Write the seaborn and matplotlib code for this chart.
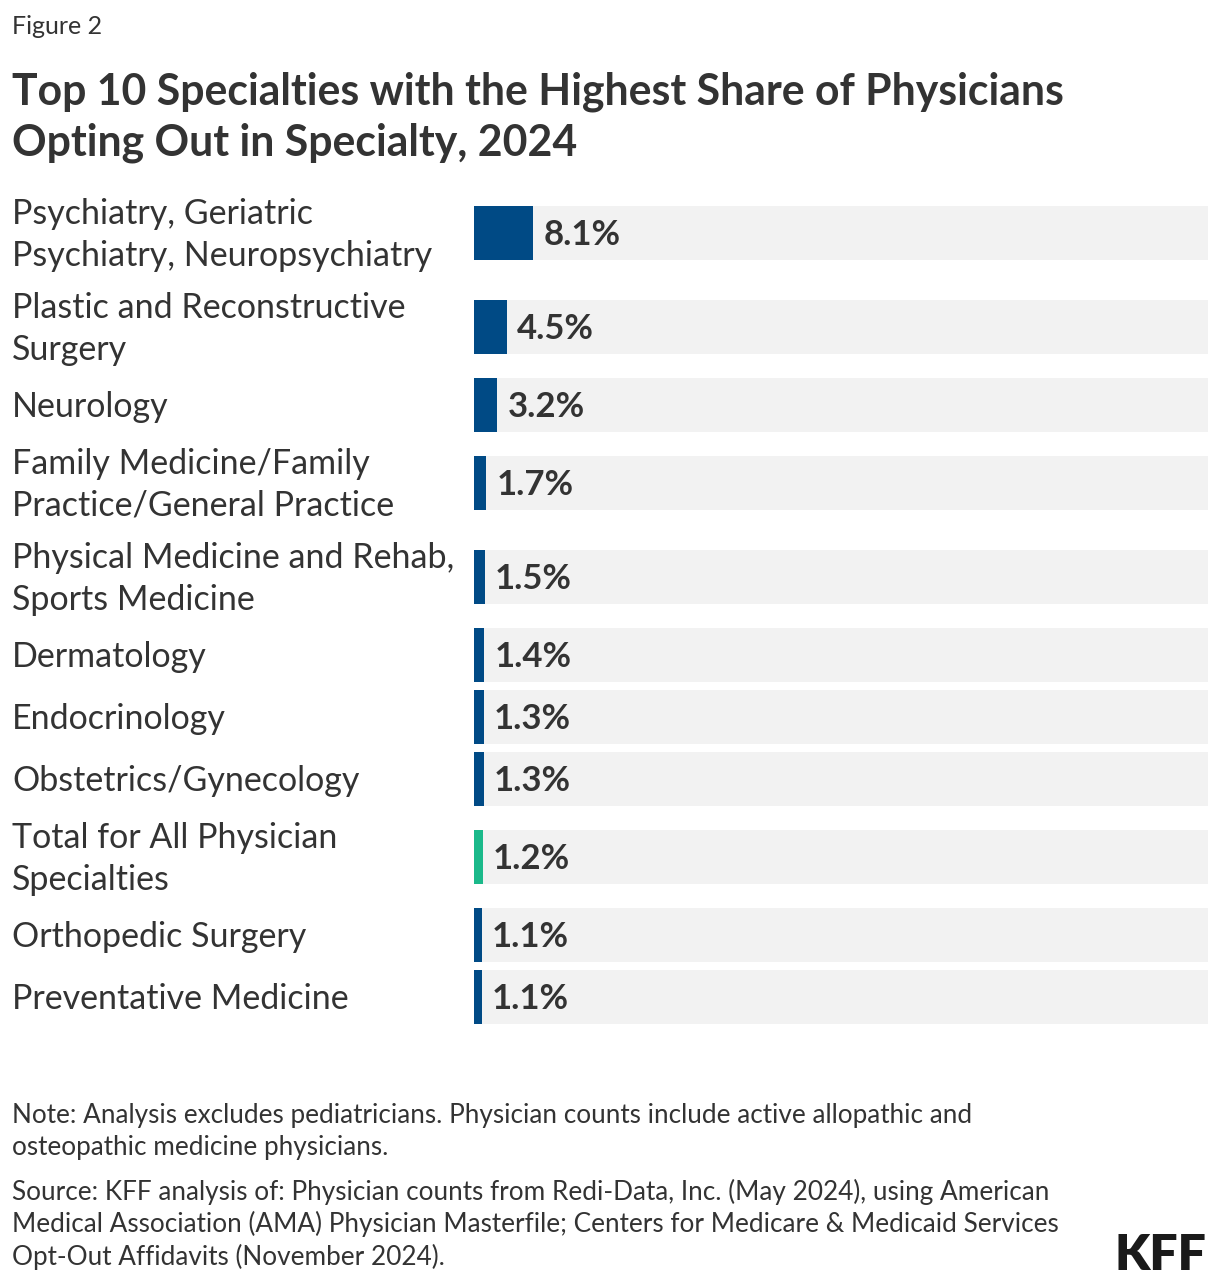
import matplotlib
matplotlib.use("Agg")
import matplotlib.pyplot as plt
import matplotlib.transforms as mtransforms
import seaborn as sns
import pandas as pd
import numpy as np

# ---- data ----
categories = [
    "Psychiatry, Geriatric\nPsychiatry, Neuropsychiatry",
    "Plastic and Reconstructive\nSurgery",
    "Neurology",
    "Family Medicine/Family\nPractice/General Practice",
    "Physical Medicine and Rehab,\nSports Medicine",
    "Dermatology",
    "Endocrinology",
    "Obstetrics/Gynecology",
    "Total for All Physician\nSpecialties",
    "Orthopedic Surgery",
    "Preventative Medicine",
]
values = [8.1, 4.5, 3.2, 1.7, 1.5, 1.4, 1.3, 1.3, 1.2, 1.1, 1.1]
value_labels = ["8.1%", "4.5%", "3.2%", "1.7%", "1.5%", "1.4%", "1.3%", "1.3%", "1.2%", "1.1%", "1.1%"]
is_total = [False, False, False, False, False, False, False, False, True, False, False]

BLUE = "#004a85"
GREEN = "#1bb98a"
BG = "#f2f2f2"
TXT = "#333333"

W, H = 1220, 1286
sns.set_theme(style="white")
plt.rcParams["font.family"] = ["Lato", "DejaVu Sans"]

# row layout (pixel units): two-line rows are taller
row_h = [94 if "\n" in c else 62 for c in categories]
pos = [233.0]
for i in range(1, len(categories)):
    pos.append(pos[-1] + row_h[i - 1] / 2 + row_h[i] / 2)

df = pd.DataFrame({"pos": pos, "value": values, "cat": categories,
                   "bg": [100.0] * len(values)})
palette = {c: (GREEN if t else BLUE) for c, t in zip(categories, is_total)}

fig = plt.figure(figsize=(W / 100, H / 100), dpi=100)
ax_top, ax_bot = 198, 1034
ax = fig.add_axes([474 / W, 1 - ax_bot / H, (1208 - 474) / W, (ax_bot - ax_top) / H])

bar_w = 54 / 62
sns.barplot(data=df, x="bg", y="pos", orient="y", native_scale=True,
            color=BG, width=bar_w, ax=ax, saturation=1)
sns.barplot(data=df, x="value", y="pos", hue="cat", orient="y", native_scale=True,
            palette=palette, width=bar_w, dodge=False, legend=False, ax=ax, saturation=1)

for p in ax.patches:
    p.set_edgecolor("none")
    p.set_linewidth(0)

ax.set_xlim(0, 100)
ax.set_ylim(ax_bot, ax_top)
ax.set_axis_off()

# value labels
for v, lab, y in zip(values, value_labels, pos):
    ax.annotate(lab, xy=(v, y), xytext=(10, -2), textcoords="offset pixels",
                ha="left", va="center", fontsize=25, fontweight="bold", color=TXT)

# category labels
blend = mtransforms.blended_transform_factory(fig.transFigure, ax.transData)
for c, y in zip(categories, pos):
    ax.text(12 / W, y + 2, c, transform=blend, ha="left", va="center",
            fontsize=24.5, color=TXT, linespacing=1.36, clip_on=False)

# header
fig.text(12 / W, 1 - 27 / H, "Figure 2", fontsize=18, color=TXT, va="center", ha="left")
fig.text(12 / W, 1 - 92 / H, "Top 10 Specialties with the Highest Share of Physicians",
         fontsize=30.8, fontweight="bold", color=TXT, va="center", ha="left")
fig.text(12 / W, 1 - 143 / H, "Opting Out in Specialty, 2024",
         fontsize=30.8, fontweight="bold", color=TXT, va="center", ha="left")

# footer
notes = [
    (1115, "Note: Analysis excludes pediatricians. Physician counts include active allopathic and"),
    (1147, "osteopathic medicine physicians."),
    (1192, "Source: KFF analysis of: Physician counts from Redi-Data, Inc. (May 2024), using American"),
    (1224, "Medical Association (AMA) Physician Masterfile; Centers for Medicare & Medicaid Services"),
    (1257, "Opt-Out Affidavits (November 2024)."),
]
for y, t in notes:
    fig.text(12 / W, 1 - y / H, t, fontsize=18.8, color=TXT, va="center", ha="left")

fig.text(1206 / W, 1 - 1255 / H, "KFF", fontsize=36, fontweight="heavy",
         color="#1a1a1a", va="center", ha="right")

fig.savefig("out.png", dpi=100, facecolor="white")
